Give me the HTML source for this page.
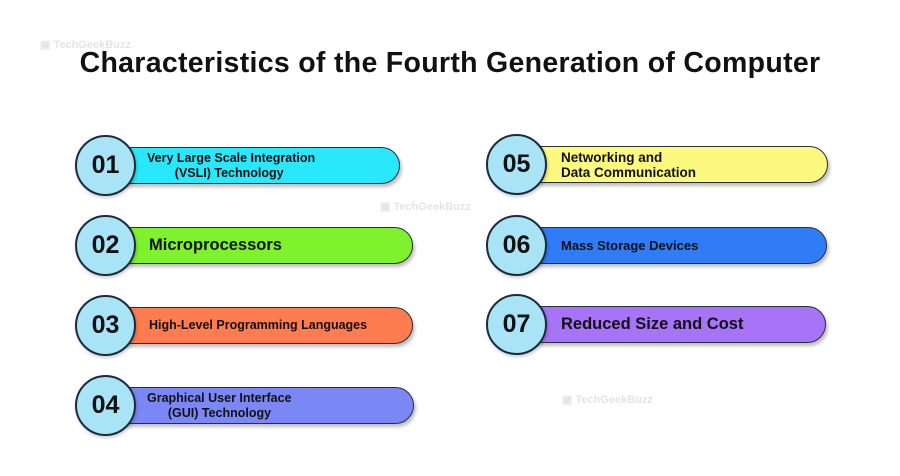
<!DOCTYPE html>
<html><head><style>
body{margin:0;width:900px;height:476px;background:#fff;position:relative;overflow:hidden;font-family:"Liberation Sans",sans-serif}
.t{position:absolute;top:47px;left:0;width:900px;text-align:center;font-weight:bold;font-size:28.5px;letter-spacing:0.3px;color:#111}
.bar{position:absolute;height:37px;border:1.5px solid #2a2f3a;border-radius:0 19px 19px 0;box-shadow:2px 3px 3px rgba(0,0,0,.25);display:flex;align-items:center;box-sizing:border-box;font-weight:bold;color:#111;line-height:15px}
.c{position:absolute;width:61px;height:61px;border-radius:50%;background:#a9e3f6;border:2px solid #1f2a3a;box-sizing:border-box;display:flex;align-items:center;justify-content:center;font-weight:bold;font-size:25px;color:#111;box-shadow:1px 2px 3px rgba(0,0,0,.2)}
.wm{position:absolute;color:#e4e4e4;font-size:11px;font-weight:bold}
</style></head><body>
<div class="wm" style="left:40px;top:38px">▣ TechGeekBuzz</div>
<div class="wm" style="left:380px;top:200px">▣ TechGeekBuzz</div>
<div class="wm" style="left:562px;top:393px">▣ TechGeekBuzz</div>
<div class="t">Characteristics of the Fourth Generation of Computer</div>

<div class="bar" style="left:118px;top:147px;width:282px;background:#29e8fb;padding-left:28px;font-size:12.5px"><div>Very Large Scale Integration<br>&nbsp;&nbsp;&nbsp;&nbsp;&nbsp;&nbsp;&nbsp;&nbsp;(VSLI) Technology</div></div>
<div class="c" style="left:75px;top:135px">01</div>
<div class="bar" style="left:118px;top:227px;width:295px;background:#7df22d;padding-left:30px;font-size:16.5px">Microprocessors</div>
<div class="c" style="left:75px;top:215px">02</div>
<div class="bar" style="left:118px;top:307px;width:295px;background:#ff7b50;padding-left:30px;font-size:12.5px">High-Level Programming Languages</div>
<div class="c" style="left:75px;top:295px">03</div>
<div class="bar" style="left:118px;top:387px;width:296px;background:#7b87f5;padding-left:28px;font-size:12.5px"><div>Graphical User Interface<br>&nbsp;&nbsp;&nbsp;&nbsp;&nbsp;&nbsp;(GUI) Technology</div></div>
<div class="c" style="left:75px;top:375px">04</div>

<div class="bar" style="left:530px;top:146px;width:298px;background:#fdf97f;padding-left:30px;font-size:13.5px"><div>Networking and<br>Data Communication</div></div>
<div class="c" style="left:486px;top:134px">05</div>
<div class="bar" style="left:530px;top:227px;width:297px;background:#2f7cf6;padding-left:30px;font-size:13px">Mass Storage Devices</div>
<div class="c" style="left:486px;top:215px">06</div>
<div class="bar" style="left:530px;top:306px;width:296px;background:#a773f7;padding-left:30px;font-size:16.5px">Reduced Size and Cost</div>
<div class="c" style="left:486px;top:294px">07</div>
</body></html>
